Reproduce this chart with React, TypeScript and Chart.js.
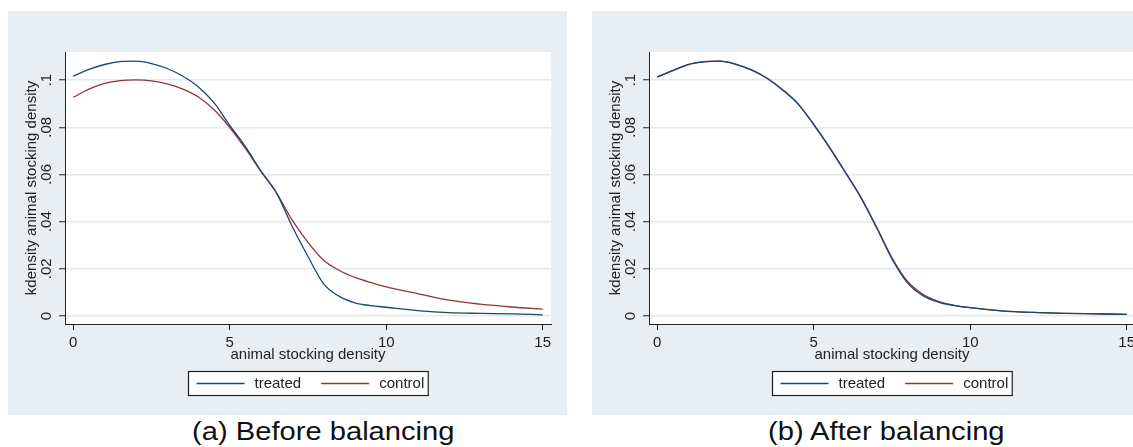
import React, { useEffect, useRef } from "react";
import { Chart, registerables } from "chart.js";

Chart.register(...registerables);

// ---- data ----
const densityGrid = [0, 0.5, 1, 1.5, 2, 2.5, 3, 3.5, 4, 4.5, 5, 5.5, 6, 6.5, 7, 7.5, 8, 8.5, 9, 9.5, 10, 11, 12, 13, 14, 15];

const treatedBefore = [0.1017, 0.1045, 0.1066, 0.1078, 0.108, 0.107, 0.1049, 0.1016, 0.0971, 0.0903, 0.0808, 0.0718, 0.0614, 0.052, 0.0378, 0.0252, 0.0136, 0.0083, 0.0056, 0.0044, 0.0037, 0.0023, 0.0014, 0.0011, 0.0009, 0.0005];
const controlBefore = [0.0927, 0.0962, 0.0986, 0.0998, 0.1001, 0.0997, 0.0984, 0.0962, 0.0928, 0.0874, 0.0799, 0.071, 0.0612, 0.052, 0.0405, 0.0312, 0.0236, 0.0193, 0.0164, 0.0142, 0.0123, 0.0095, 0.0067, 0.005, 0.0038, 0.0029];

const treatedAfter = [0.1014, 0.104, 0.1066, 0.1077, 0.108, 0.1068, 0.1044, 0.1008, 0.0958, 0.0898, 0.0812, 0.0716, 0.0612, 0.0505, 0.0376, 0.0242, 0.0139, 0.0085, 0.0058, 0.0044, 0.0035, 0.0022, 0.0015, 0.0011, 0.0009, 0.0007];
const controlAfter = [0.1013, 0.1041, 0.1067, 0.1078, 0.108, 0.1067, 0.1043, 0.1009, 0.096, 0.0899, 0.081, 0.0714, 0.061, 0.0503, 0.0379, 0.0247, 0.0146, 0.0091, 0.0061, 0.0045, 0.0035, 0.0022, 0.0015, 0.0011, 0.0009, 0.0007];

const seriesLabels = ["treated", "control"];
const xTicks = [0, 5, 10, 15];
const xTickLabels = ["0", "5", "10", "15"];
const yTicks = [0, 0.02, 0.04, 0.06, 0.08, 0.1];
const yTickLabels = ["0", ".02", ".04", ".06", ".08", ".1"];
const xTitle = "animal stocking density";
const yTitle = "kdensity animal stocking density";
const captions = ["(a) Before balancing", "(b) After balancing"];

// ---- styles ----
const FONT = "'Liberation Sans', Arial, Helvetica, sans-serif";
const INK = "#222222";
const PANEL_BG = "#e8eef1";
const TREATED_COLOR = "#1a476f";
const CONTROL_COLOR = "#90353b";
const PANEL_W = 559;
const PANEL_H = 404;

const panelBackground = {
  id: "panelBackground",
  beforeDraw(chart: any) {
    const { ctx, width, height, chartArea } = chart;
    ctx.save();
    ctx.fillStyle = PANEL_BG;
    ctx.fillRect(0, 0, width, height);
    ctx.fillStyle = "#ffffff";
    ctx.fillRect(chartArea.left, chartArea.top, chartArea.right - chartArea.left, chartArea.bottom - chartArea.top);
    ctx.restore();
  },
};

const boxedLegend = {
  id: "boxedLegend",
  afterDraw(chart: any) {
    const { ctx, chartArea } = chart;
    const ds = chart.data.datasets;
    ctx.save();
    ctx.font = `15px ${FONT}`;
    const padL = 8, lineLen = 48, gapText = 10, gapItem = 20, padR = 4;
    const widths = ds.map((d: any) => ctx.measureText(d.label).width);
    const total = padL + ds.length * (lineLen + gapText) + widths.reduce((a: number, b: number) => a + b, 0) + gapItem * (ds.length - 1) + padR;
    const cx = (chartArea.left + chartArea.right) / 2;
    const left = Math.round(cx - total / 2) + 0.5;
    const top = Math.round(chartArea.bottom + 47) + 0.5;
    const h = 24;
    ctx.fillStyle = "#ffffff";
    ctx.fillRect(left, top, total, h);
    ctx.strokeStyle = INK;
    ctx.lineWidth = 1.2;
    ctx.strokeRect(left, top, total, h);
    let x = left + padL;
    const cy = top + h / 2;
    ds.forEach((d: any, i: number) => {
      ctx.strokeStyle = d.borderColor;
      ctx.lineWidth = d.borderWidth;
      ctx.beginPath();
      ctx.moveTo(x, cy);
      ctx.lineTo(x + lineLen, cy);
      ctx.stroke();
      x += lineLen + gapText;
      ctx.fillStyle = INK;
      ctx.textBaseline = "middle";
      ctx.textAlign = "left";
      ctx.fillText(d.label, x, cy);
      x += widths[i] + gapItem;
    });
    ctx.restore();
  },
};

function Panel({ left, treated, control }: { left: number; treated: number[]; control: number[] }) {
  const ref = useRef<HTMLCanvasElement | null>(null);
  useEffect(() => {
    if (!ref.current) return;
    const font = { family: FONT, size: 15 };
    const chart = new Chart(ref.current, {
      type: "line",
      data: {
        datasets: [
          {
            label: seriesLabels[0],
            data: densityGrid.map((x, i) => ({ x, y: treated[i] })),
            borderColor: TREATED_COLOR,
            borderWidth: 1.3,
            pointRadius: 0,
            cubicInterpolationMode: "monotone",
            fill: false,
          },
          {
            label: seriesLabels[1],
            data: densityGrid.map((x, i) => ({ x, y: control[i] })),
            borderColor: CONTROL_COLOR,
            borderWidth: 1.3,
            pointRadius: 0,
            cubicInterpolationMode: "monotone",
            fill: false,
          },
        ],
      },
      options: {
        animation: false,
        responsive: false,
        maintainAspectRatio: false,
        devicePixelRatio: 1,
        events: [],
        layout: { padding: { left: 0, right: 16, top: 41, bottom: 51 } },
        plugins: {
          legend: { display: false },
          tooltip: { enabled: false },
          title: { display: false },
        },
        scales: {
          x: {
            type: "linear",
            min: -0.265,
            max: 15.265,
            afterBuildTicks: (s: any) => {
              s.ticks = xTicks.map((v) => ({ value: v }));
            },
            afterFit: (s: any) => {
              s.height = 40;
            },
            ticks: {
              callback: (_v: any, i: number) => xTickLabels[i],
              font,
              color: INK,
              padding: 4,
              maxRotation: 0,
              minRotation: 0,
              autoSkip: false,
            },
            grid: { drawOnChartArea: false, drawTicks: true, tickLength: 6, tickColor: INK, tickWidth: 1 },
            border: { display: true, color: INK, width: 1 },
            title: { display: true, text: xTitle, font, color: INK, padding: { top: 0, bottom: 0 } },
          },
          y: {
            type: "linear",
            min: -0.0034,
            max: 0.1119,
            afterBuildTicks: (s: any) => {
              s.ticks = yTicks.map((v) => ({ value: v }));
            },
            afterFit: (s: any) => {
              s.width = 57;
            },
            ticks: {
              callback: (_v: any, i: number) => yTickLabels[i],
              font,
              color: INK,
              padding: 1.5,
              minRotation: 90,
              maxRotation: 90,
              crossAlign: "center",
              autoSkip: false,
            },
            grid: { color: "#e3eaee", lineWidth: 1.5, drawTicks: true, tickLength: 6, tickColor: INK, tickWidth: 1 },
            border: { display: true, color: INK, width: 1 },
            title: { display: true, text: yTitle, font, color: INK, padding: { top: 15, bottom: 0 } },
          },
        },
      } as any,
      plugins: [panelBackground, boxedLegend],
    });
    return () => chart.destroy();
  }, [treated, control]);

  return (
    <div style={{ position: "absolute", left, top: 11, width: PANEL_W, height: PANEL_H }}>
      <canvas ref={ref} width={PANEL_W} height={PANEL_H} style={{ display: "block", width: PANEL_W, height: PANEL_H }} />
    </div>
  );
}

export default function App() {
  const captionStyle: React.CSSProperties = {
    position: "absolute",
    top: 418,
    fontFamily: FONT,
    fontSize: 26.5,
    lineHeight: 1,
    color: "#111",
    whiteSpace: "nowrap",
    transform: "scaleX(1.1)",
    transformOrigin: "0 0",
  };
  return (
    <div style={{ position: "absolute", left: 0, top: 0, width: 1133, height: 447, overflow: "hidden", background: "#ffffff" }}>
      <Panel left={8} treated={treatedBefore} control={controlBefore} />
      <Panel left={592} treated={treatedAfter} control={controlAfter} />
      <div style={{ ...captionStyle, left: 192 }}>{captions[0]}</div>
      <div style={{ ...captionStyle, left: 768 }}>{captions[1]}</div>
    </div>
  );
}
